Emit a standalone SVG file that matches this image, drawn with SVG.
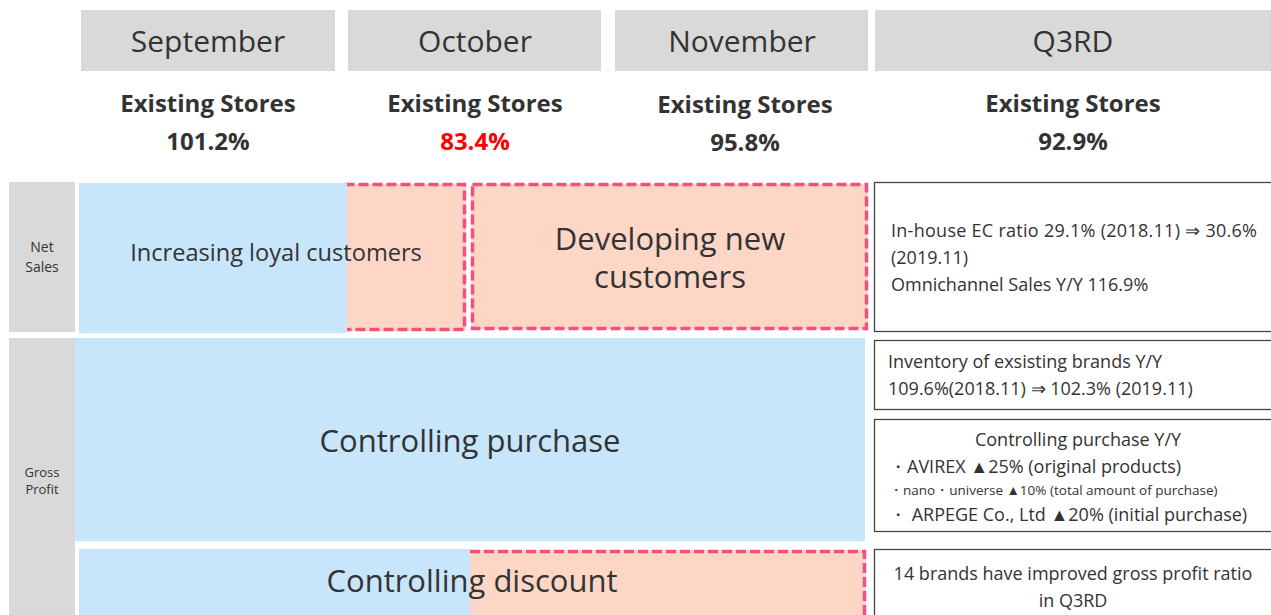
<svg xmlns="http://www.w3.org/2000/svg" width="1271" height="615" viewBox="0 0 1271 615">
<style>
text{font-family:"Open Sans","Noto Sans",sans-serif;fill:#333}
.hdr{fill:#d9d9d9}
.hdrt{font-size:30px;text-anchor:middle}
.es{font-size:24px;font-weight:bold;text-anchor:middle}
.side{fill:#d9d9d9}
.sidet{font-size:14px;text-anchor:middle}
.blue{fill:#c7e5fb}
.org{fill:#fdd6c6}
.dash{fill:none;stroke:#f4507f;stroke-width:3.5;stroke-dasharray:10 4}
.big{font-size:31px;text-anchor:middle}
.box{fill:#fff;stroke:#444;stroke-width:1.3}
.bt{font-size:18px}
.btc{font-size:18px;text-anchor:middle}
</style>
<rect width="1271" height="615" fill="#fff"/>
<g id="header-september"><rect class="hdr" x="81" y="10" width="254" height="61"/><text class="hdrt" x="208" y="52">September</text></g>
<g id="header-october"><rect class="hdr" x="348" y="10" width="253" height="61"/><text class="hdrt" x="475" y="52">October</text></g>
<g id="header-november"><rect class="hdr" x="615" y="10" width="253" height="61"/><text class="hdrt" x="742" y="52">November</text></g>
<g id="header-q3rd"><rect class="hdr" x="875" y="10" width="396" height="61"/><text class="hdrt" x="1073" y="52">Q3RD</text></g>
<g id="stat-september"><text class="es" x="208" y="112">Existing Stores</text><text class="es" x="208" y="150">101.2%</text></g>
<g id="stat-october"><text class="es" x="475" y="112">Existing Stores</text><text class="es" x="475" y="150" style="fill:#ff0000">83.4%</text></g>
<g id="stat-november"><text class="es" x="745" y="113">Existing Stores</text><text class="es" x="745" y="151">95.8%</text></g>
<g id="stat-q3rd"><text class="es" x="1073" y="112">Existing Stores</text><text class="es" x="1073" y="150">92.9%</text></g>
<g id="label-net-sales"><rect class="side" x="9" y="182" width="66" height="150"/><text class="sidet" x="42" y="252">Net</text><text class="sidet" x="42" y="272">Sales</text></g>
<g id="label-gross-profit"><rect class="side" x="9" y="338" width="66" height="277"/><text class="sidet" x="42" y="477" style="font-size:13px">Gross</text><text class="sidet" x="42" y="494" style="font-size:13px">Profit</text></g>
<g id="loyal">
<rect class="org" x="343" y="184" width="123" height="147"/>
<rect class="dash" x="344.5" y="184.5" width="120" height="145"/>
<rect class="blue" x="79" y="183" width="268" height="150"/>
<text x="276" y="261" style="font-size:23.6px;text-anchor:middle">Increasing loyal customers</text>
</g>
<g id="new-customers">
<rect class="org" x="471" y="184" width="397" height="145"/>
<rect class="dash" x="472.5" y="184.5" width="394" height="144"/>
<text class="big" x="670" y="250">Developing new</text>
<text class="big" x="670" y="288">customers</text>
</g>
<g id="controlling-purchase">
<rect class="blue" x="75" y="338" width="790" height="203"/>
<text class="big" x="470" y="452">Controlling purchase</text>
</g>
<g id="controlling-discount">
<rect class="org" x="470" y="550" width="396" height="65"/>
<path class="dash" d="M470 551.5H864.5V615"/>
<rect class="blue" x="79" y="549" width="391" height="66"/>
<text class="big" x="472" y="592">Controlling discount</text>
</g>
<g id="note-ec">
<rect class="box" x="874.5" y="182.5" width="400" height="149"/>
<text class="bt" x="891" y="237" textLength="366" lengthAdjust="spacing">In-house EC ratio 29.1% (2018.11) ⇒ 30.6%</text>
<text class="bt" x="891" y="264">(2019.11)</text>
<text class="bt" x="891" y="291">Omnichannel Sales Y/Y 116.9%</text>
</g>
<g id="note-inventory">
<rect class="box" x="874.5" y="340.5" width="400" height="69"/>
<text class="bt" x="888" y="368">Inventory of exsisting brands Y/Y</text>
<text class="bt" x="888" y="395">109.6%(2018.11) ⇒ 102.3% (2019.11)</text>
</g>
<g id="note-purchase">
<rect class="box" x="874.5" y="419.5" width="400" height="112"/>
<text class="btc" x="1078" y="446">Controlling purchase Y/Y</text>
<text class="bt" x="889" y="473">・AVIREX ▲25% (original products)</text>
<text class="bt" x="889" y="495" style="font-size:13.5px">・nano・universe ▲10% (total amount of purchase)</text>
<text class="bt" x="889" y="521">・ ARPEGE Co., Ltd ▲20% (initial purchase)</text>
</g>
<g id="note-gross">
<rect class="box" x="874.5" y="549.5" width="400" height="70"/>
<text class="btc" x="1073" y="580">14 brands have improved gross profit ratio</text>
<text class="btc" x="1073" y="607">in Q3RD</text>
</g>
<g id="connectors"></g>
</svg>
